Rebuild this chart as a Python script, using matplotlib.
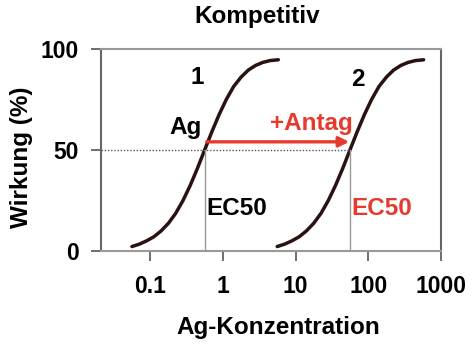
import matplotlib.pyplot as plt

plt.rcParams['font.family'] = ['Liberation Sans', 'DejaVu Sans']
plt.rcParams['font.weight'] = 'bold'

# curve values (concentration, effect in %)
conc_ag = [0.056, 0.071, 0.089, 0.112, 0.141, 0.178, 0.224, 0.282, 0.355, 0.447, 0.562,
           0.708, 0.891, 1.12, 1.41, 1.78, 2.24, 2.82, 3.55, 4.47, 5.8]
effect = [2.2, 3.4, 5.0, 7.0, 9.9, 13.7, 18.6, 24.9, 32.4, 40.9, 50,
          59.1, 67.6, 75.1, 81.4, 86.0, 89.5, 91.8, 93.3, 94.2, 94.6]
conc_antag = [c * 100 for c in conc_ag]

ec50_ag = 0.56
ec50_antag = 56
xticks = [0.1, 1, 10, 100, 1000]
xticklabels = ["0.1", "1", "10", "100", "1000"]
yticks = [0, 50, 100]

RED = "#e63a2e"
CURVE = "#2a1212"
FS = 17.5

fig = plt.figure(figsize=(4.74, 3.54), dpi=100)
ax = fig.add_axes([0.213, 0.291, 0.717, 0.571])

ax.plot(conc_ag, effect, color=CURVE, lw=2.5, solid_capstyle="round")
ax.plot(conc_antag, effect, color=CURVE, lw=2.5, solid_capstyle="round")

# dotted 50% line and EC50 drop lines
ax.plot([0.021, ec50_antag], [50, 50], color="#555555", lw=1, ls=(0, (1, 1.3)))
ax.plot([ec50_ag, ec50_ag], [0, 50], color="#999999", lw=1)
ax.plot([ec50_antag, ec50_antag], [0, 50], color="#999999", lw=1)

# shift arrow
ax.annotate("", xy=(ec50_antag * 0.98, 54), xytext=(0.6, 54),
            arrowprops=dict(arrowstyle="-|>,head_length=0.6,head_width=0.3",
                            color=RED, lw=2.4, shrinkA=0, shrinkB=0))

ax.text(0.44, 86, "1", fontsize=FS, fontweight="bold", ha="center", va="center")
ax.text(72, 85, "2", fontsize=FS, fontweight="bold", ha="center", va="center")
ax.text(0.31, 61, "Ag", fontsize=FS, fontweight="bold", ha="center", va="center")
ax.text(16.5, 63, "+Antag", fontsize=FS, fontweight="bold", ha="center", va="center", color=RED)
ax.text(0.6, 21, "EC50", fontsize=FS, fontweight="bold", ha="left", va="center")
ax.text(58, 21, "EC50", fontsize=FS, fontweight="bold", ha="left", va="center", color=RED)

ax.set_xscale("log")
ax.set_xlim(0.021, 1000)
ax.set_ylim(0, 100)
ax.set_xticks(xticks)
ax.set_xticklabels(xticklabels)
ax.minorticks_off()
ax.set_yticks(yticks)
ax.tick_params(axis="both", direction="out", length=7, width=1.2, color="#555555",
               labelsize=16.5, pad=9)
ax.tick_params(axis="x", pad=10)
for lab in ax.get_xticklabels() + ax.get_yticklabels():
    lab.set_fontweight("bold")
for side in ["left", "right"]:
    ax.spines[side].set_color("#666666")
    ax.spines[side].set_linewidth(1.5)
for side in ["top", "bottom"]:
    ax.spines[side].set_color("#999999")
    ax.spines[side].set_linewidth(1.5)

fig.text(0.542, 0.953, "Kompetitiv", fontsize=FS, fontweight="bold", ha="center", va="center")
fig.text(0.046, 0.556, "Wirkung (%)", fontsize=FS, fontweight="bold", ha="center",
         va="center", rotation=90)
fig.text(0.587, 0.076, "Ag-Konzentration", fontsize=FS, fontweight="bold", ha="center",
         va="center")

fig.savefig("out.png", dpi=100)
